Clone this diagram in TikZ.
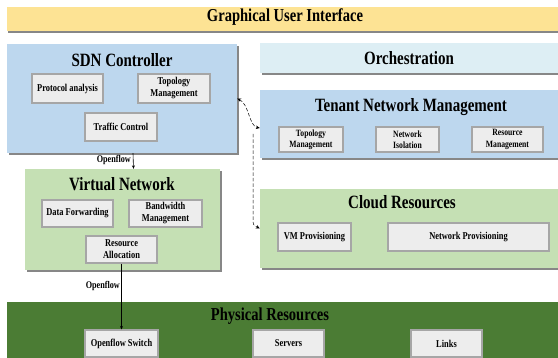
\documentclass[tikz,border=0pt]{standalone}
\usepackage{fontspec}
\setmainfont{Liberation Serif}
\newfontfamily\cond[FakeStretch=0.8]{Liberation Serif}
\usetikzlibrary{shadows,arrows.meta,calc}
\definecolor{guiC}{HTML}{FDE394}
\definecolor{blueC}{HTML}{BDD7EE}
\definecolor{orchC}{HTML}{DDEEF4}
\definecolor{greenC}{HTML}{C5E0B4}
\definecolor{dgreenC}{HTML}{4B7C34}
\definecolor{innerC}{HTML}{EDEDED}
\definecolor{innerB}{HTML}{A6A6A6}
\tikzset{
  outerbox/.style={draw=none, inner sep=0pt,
    drop shadow={shadow xshift=1.5pt, shadow yshift=-2pt, fill=black!55, opacity=0.85}},
  innerbox/.style={fill=innerC, draw=innerB, line width=1.1pt, inner sep=1pt, align=center,
    font=\cond\fontsize{10.5}{12}\selectfont\bfseries,
    drop shadow={shadow xshift=1pt, shadow yshift=-1pt, fill=black!40, opacity=0.7}},
  smallinner/.style={font=\cond\fontsize{9.6}{11.5}\selectfont\bfseries},
  titletext/.style={font=\cond\fontsize{18.75}{20}\selectfont\bfseries, inner sep=0pt},
  bigtitle/.style={font=\cond\fontsize{18.2}{20}\selectfont\bfseries, inner sep=0pt},
  lbl/.style={font=\cond\fontsize{10.2}{11}\selectfont\bfseries, inner sep=0pt},
  arr/.style={-{Stealth[length=3.5pt,width=3pt]}, line width=0.6pt},
  darr/.style={{Stealth[length=4pt,width=3.5pt]}-{Stealth[length=4pt,width=3.5pt]}, dash pattern=on 3.5pt off 2pt, line width=0.5pt},
  darr1/.style={-{Stealth[length=4pt,width=3.5pt]}, dash pattern=on 3.5pt off 2pt, line width=0.5pt},
}
\begin{document}
\begin{tikzpicture}[x=1pt,y=-1pt]
\useasboundingbox (0,0) rectangle (558,358);
\clip (0,0) rectangle (558,358);
\fill[white] (0,0) rectangle (558,358);

% outer boxes
\node[outerbox, fill=guiC, minimum width=559pt, minimum height=24pt] (gui) at (286,19) {};
\node[bigtitle] (guit) at (285,17.5) {Graphical User Interface};

\node[outerbox, fill=blueC, minimum width=230pt, minimum height=109pt] (sdn) at (122,98.5) {};
\node[titletext] (sdnt) at (122,60) {SDN Controller};

\node[outerbox, fill=orchC, minimum width=300pt, minimum height=30pt] (orch) at (410,58) {};
\node[titletext] (orcht) at (409,58) {Orchestration};

\node[outerbox, fill=blueC, minimum width=300pt, minimum height=68pt] (tnm) at (410,124) {};
\node[titletext] (tnmt) at (411,107) {Tenant Network Management};

\node[outerbox, fill=greenC, minimum width=300pt, minimum height=79pt] (cloud) at (410,228.5) {};
\node[titletext] (cloudt) at (402,202) {Cloud Resources};

\node[outerbox, fill=greenC, minimum width=195pt, minimum height=101pt] (vn) at (122.5,219.5) {};
\node[titletext] (vnt) at (122,184) {Virtual Network};

\node[outerbox, fill=dgreenC, minimum width=559pt, minimum height=63pt] (phys) at (286,333.5) {};
\node[bigtitle] (physt) at (270,316) {Physical Resources};

% inner boxes
\node[innerbox, minimum width=71pt, minimum height=29pt] (pa) at (67.5,88.5) {Protocol analysis};
\node[innerbox, minimum width=72pt, minimum height=29pt] (tm1) at (174,88.5) {Topology\\Management};
\node[innerbox, minimum width=72pt, minimum height=28pt] (tc) at (121,127) {Traffic Control};

\node[innerbox, minimum width=71pt, minimum height=27pt] (df) at (77.5,213.5) {Data Forwarding};
\node[innerbox, minimum width=73pt, minimum height=27pt] (bm) at (165.5,213.5) {Bandwidth\\Management};
\node[innerbox, minimum width=71pt, minimum height=27pt] (ra) at (121.5,249.5) {Resource\\Allocation};

\node[innerbox, smallinner, minimum width=64pt, minimum height=25pt] (tm2) at (311,139.5) {Topology\\Management};
\node[innerbox, smallinner, minimum width=63pt, minimum height=25pt] (ni) at (407.5,139.5) {Network\\Isolation};
\node[innerbox, smallinner, minimum width=71pt, minimum height=25pt] (rm) at (507.5,139.5) {Resource\\Management};

\node[innerbox, minimum width=73pt, minimum height=28pt] (vmp) at (314.5,237) {VM Provisioning};
\node[innerbox, minimum width=161pt, minimum height=28pt] (np) at (468.5,237) {Network Provisioning};

\node[innerbox, minimum width=73pt, minimum height=27pt] (ofs) at (121.5,343.5) {Openflow Switch};
\node[innerbox, minimum width=71pt, minimum height=27pt] (srv) at (288.5,343.5) {Servers};
\node[innerbox, minimum width=71pt, minimum height=27pt] (lnk) at (446.5,343.5) {Links};

% connectors
\draw[arr] ($(sdn.south)+(11,0)$) -- ($(vn.north)+(11,0)$);
\node[lbl, anchor=east] (of1) at (131,159.5) {Openflow};
\draw[arr] (ra.south) -- (ofs.north);
\node[lbl, anchor=east] (of2) at (120,286) {Openflow};

\draw[darr] (sdn.east) .. controls (249,104) and (249,126) .. ($(tnm.west)+(0,4)$);
\coordinate (dstart) at (253,134);
\draw[darr1] (dstart) -- (253,218) .. controls (253,225) .. (cloud.west);
\end{tikzpicture}
\end{document}
